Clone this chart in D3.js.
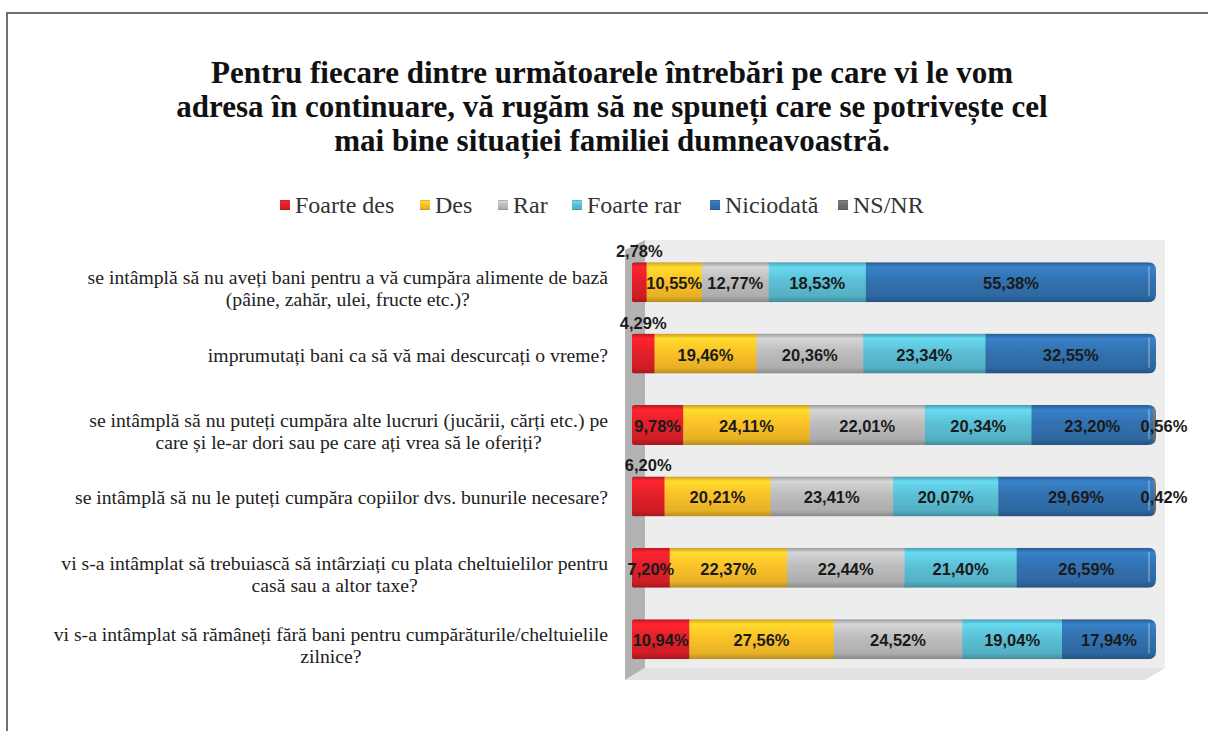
<!DOCTYPE html>
<html>
<head>
<meta charset="utf-8">
<script src="https://cdn.jsdelivr.net/npm/d3@7"></script>
<style>
  body { margin: 0; background: #fff; }
  svg { display: block; }
</style>
</head>
<body>
<div id="chart"></div>
<script>
// data
var titleLines = [
  'Pentru fiecare dintre următoarele întrebări pe care vi le vom',
  'adresa în continuare, vă rugăm să ne spuneți care se potrivește cel',
  'mai bine situației familiei dumneavoastră.'
]
var categories = [
  ['se intâmplă să nu aveți bani pentru a vă cumpăra alimente de bază', '(pâine, zahăr, ulei, fructe etc.)?'],
  ['imprumutați bani ca să vă mai descurcați o vreme?'],
  ['se intâmplă să nu puteți cumpăra alte lucruri (jucării, cărți etc.) pe', 'care și le-ar dori sau pe care ați vrea să le oferiți?'],
  ['se intâmplă să nu le puteți cumpăra copiilor dvs. bunurile necesare?'],
  ['vi s-a intâmplat să trebuiască să intârziați cu plata cheltuielilor pentru', 'casă sau a altor taxe?'],
  ['vi s-a intâmplat să rămâneți fără bani pentru cumpărăturile/cheltuielile', 'zilnice?']
]
var seriesNames = ['Foarte des', 'Des', 'Rar', 'Foarte rar', 'Niciodată', 'NS/NR']
var foarteDes = [2.78, 4.29, 9.78, 6.20, 7.20, 10.94]
var des = [10.55, 19.46, 24.11, 20.21, 22.37, 27.56]
var rar = [12.77, 20.36, 22.01, 23.41, 22.44, 24.52]
var foarteRar = [18.53, 23.34, 20.34, 20.07, 21.40, 19.04]
var niciodata = [55.38, 32.55, 23.20, 29.69, 26.59, 17.94]
var nsnr = [0, 0, 0.56, 0.42, 0, 0]
var seriesColors = ['#e2202a', '#fbc228', '#bdbdbd', '#5cc0d6', '#3272b1', '#6f6f6f']

var width = 1208
var height = 731

var svg = d3.select('#chart')
  .append('svg')
  .attr('width', width)
  .attr('height', height)

var defs = svg.append('defs')

// frame
svg.append('path')
  .attr('d', 'M7,731 L7,13 L1208,13')
  .attr('fill', 'none')
  .attr('stroke', '#707070')
  .attr('stroke-width', 2)

// title
svg.append('text')
  .attr('x', 612)
  .attr('y', 83)
  .attr('text-anchor', 'middle')
  .style('font-family', '"Liberation Serif", serif')
  .style('font-weight', 'bold')
  .style('font-size', '31px')
  .style('fill', '#111')
  .selectAll('tspan')
  .data(titleLines)
  .enter()
  .append('tspan')
  .attr('x', 612)
  .attr('dy', (d, i) => i === 0 ? 0 : 34)
  .text(d => d)

// gradients for the cylinder look
seriesColors.forEach((c, i) => {
  var base = d3.color(c)
  var g = defs.append('linearGradient')
    .attr('id', 'grad' + i)
    .attr('x1', 0).attr('y1', 0).attr('x2', 0).attr('y2', 1)
  g.append('stop').attr('offset', '0%').attr('stop-color', base.darker(0.6))
  g.append('stop').attr('offset', '12%').attr('stop-color', base.brighter(0.35))
  g.append('stop').attr('offset', '45%').attr('stop-color', base)
  g.append('stop').attr('offset', '85%').attr('stop-color', base.darker(0.25))
  g.append('stop').attr('offset', '100%').attr('stop-color', base.darker(0.9))
})

// legend
var legendX = [280, 420, 498, 572, 710, 838]
var legend = svg.append('g')
seriesNames.forEach((name, i) => {
  legend.append('rect')
    .attr('x', legendX[i])
    .attr('y', 200)
    .attr('width', 10)
    .attr('height', 10)
    .attr('fill', 'url(#grad' + i + ')')
  legend.append('text')
    .attr('x', legendX[i] + 15)
    .attr('y', 213)
    .style('font-family', '"Liberation Serif", serif')
    .style('font-size', '24px')
    .style('fill', '#333')
    .text(name)
})

// scales
var x = d3.scaleLinear().domain([0, 100]).range([632, 1156])
var y = d3.scaleBand()
  .domain(d3.range(categories.length))
  .range([246.5, 674.9])
  .paddingInner(0.44)
  .paddingOuter(0.22)

// 3d box: back wall, left wall, floor
svg.append('rect')
  .attr('x', 645).attr('y', 240)
  .attr('width', 520).attr('height', 428)
  .attr('fill', '#ededed')
svg.append('polygon')
  .attr('points', '625,250 645,240 645,668 625,680')
  .attr('fill', '#b3b3b3')
svg.append('polygon')
  .attr('points', '625,680 645,668 1165,668 1145,680')
  .attr('fill', '#e2e2e2')

// stacked data
var rows = categories.map((c, i) => ({
  i: i,
  'Foarte des': foarteDes[i],
  'Des': des[i],
  'Rar': rar[i],
  'Foarte rar': foarteRar[i],
  'Niciodată': niciodata[i],
  'NS/NR': nsnr[i]
}))
var stacked = d3.stack().keys(seriesNames)(rows)

// clip each bar with a rounded right end
var bh = y.bandwidth()
rows.forEach(r => {
  var x0 = x(0), x1 = x(100), y0 = y(r.i), rr = 8
  defs.append('clipPath')
    .attr('id', 'clip' + r.i)
    .append('path')
    .attr('d', 'M' + x0 + ',' + (y0 + 2) +
      ' Q' + x0 + ',' + y0 + ' ' + (x0 + 3) + ',' + y0 +
      ' L' + (x1 - rr) + ',' + y0 +
      ' Q' + x1 + ',' + y0 + ' ' + x1 + ',' + (y0 + rr) +
      ' L' + x1 + ',' + (y0 + bh - rr) +
      ' Q' + x1 + ',' + (y0 + bh) + ' ' + (x1 - rr) + ',' + (y0 + bh) +
      ' L' + (x0 + 3) + ',' + (y0 + bh) +
      ' Q' + x0 + ',' + (y0 + bh) + ' ' + x0 + ',' + (y0 + bh - 2) + ' Z')
})

var bars = svg.append('g')
rows.forEach(r => {
  var g = bars.append('g').attr('clip-path', 'url(#clip' + r.i + ')')
  stacked.forEach((s, k) => {
    var d = s[r.i]
    if (d[1] - d[0] <= 0) return
    g.append('rect')
      .attr('x', x(d[0]))
      .attr('y', y(r.i))
      .attr('width', Math.max(0, x(d[1]) - x(d[0])) + (k === 5 ? 0 : 0.5))
      .attr('height', bh)
      .attr('fill', 'url(#grad' + k + ')')
  })
  // cap highlight at the end of the cylinder
  g.append('path')
    .attr('d', 'M' + (x(100) - 7) + ',' + (y(r.i) + 4) + ' L' + (x(100) - 7) + ',' + (y(r.i) + bh - 6))
    .attr('stroke', '#fff')
    .attr('stroke-opacity', 0.25)
    .attr('stroke-width', 2)
})

// value labels
var fmt = v => v.toFixed(2).replace('.', ',') + '%'
var labels = svg.append('g')
  .style('font-family', '"Liberation Sans", Arial, sans-serif')
  .style('font-weight', 'bold')
  .style('font-size', '16.5px')
  .style('fill', '#1a1a1a')
stacked.forEach((s, k) => {
  s.forEach((d, i) => {
    var v = d[1] - d[0]
    if (v <= 0) return
    var cx = (x(d[0]) + x(d[1])) / 2
    var cy = y(i) + bh / 2 + 7
    if (k === 0 && v < 7) {
      cy = y(i) - 5
    }
    if (k === 5) {
      cx = x(d[1]) + 8
    }
    labels.append('text')
      .attr('x', cx)
      .attr('y', cy)
      .attr('text-anchor', 'middle')
      .text(fmt(v))
  })
})

// category labels: lines centred on each other, block right aligned
var catG = svg.append('g')
  .style('font-family', '"Liberation Serif", "Times New Roman", serif')
  .style('font-size', '19.7px')
  .style('fill', '#222')
categories.forEach((lines, i) => {
  var t = catG.append('text').attr('text-anchor', 'middle')
  var mid = y(i) + bh / 2 + (lines.length > 1 ? 7 : 2)
  var tspans = t.selectAll('tspan')
    .data(lines)
    .enter()
    .append('tspan')
    .attr('y', (d, j) => mid + 6 + (j - (lines.length - 1) / 2) * 21.5)
    .text(d => d)
  var maxW = d3.max(tspans.nodes(), n => n.getComputedTextLength())
  tspans.attr('x', 608 - maxW / 2)
})
</script>
</body>
</html>
